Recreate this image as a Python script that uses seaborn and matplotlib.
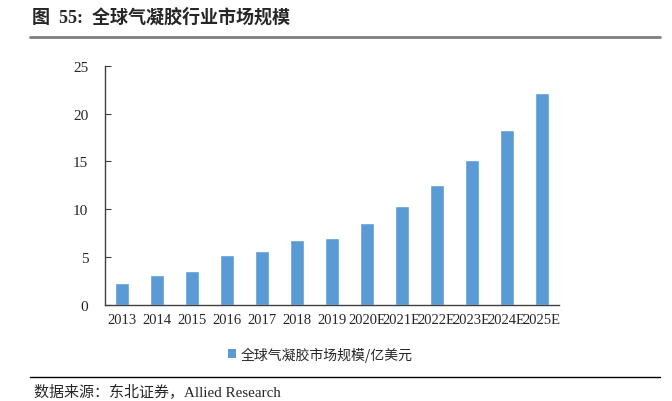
import pandas as pd
import matplotlib
import matplotlib.pyplot as plt
import seaborn as sns
from matplotlib.patches import Patch
from matplotlib.lines import Line2D

sns.set_style("white")
matplotlib.rcParams['font.family'] = ['Liberation Serif', 'Noto Sans CJK SC']

# 数据
years = ["2013", "2014", "2015", "2016", "2017", "2018", "2019",
         "2020E", "2021E", "2022E", "2023E", "2024E", "2025E"]
market_size = [2.24, 3.11, 3.57, 5.18, 5.6, 6.75, 7.03,
               8.53, 10.35, 12.52, 15.14, 18.32, 22.2]
series_name = "全球气凝胶市场规模/亿美元"
title = "图  55:  全球气凝胶行业市场规模"
source = "数据来源：东北证券，Allied Research"

df = pd.DataFrame({"year": years, "value": market_size})

fig = plt.figure(figsize=(6.72, 4.02), dpi=100)
ax = fig.add_axes([105 / 672, 1 - 305.7 / 402, 454 / 672, 238.7 / 402])

sns.barplot(data=df, x="year", y="value", color="#5B9BD5", width=0.4,
            saturation=1, ax=ax)
ax.set_xlim(-0.5, len(years) - 0.5)
ax.set_ylim(0, 25)
ax.set_yticks([0, 5, 10, 15, 20, 25])
ax.set_xlabel("")
ax.set_ylabel("")
for s in ["top", "right"]:
    ax.spines[s].set_visible(False)
for s in ["left", "bottom"]:
    ax.spines[s].set_color("#404040")
    ax.spines[s].set_linewidth(1.0)
ax.tick_params(axis="y", direction="in", length=4, color="#404040",
               labelsize=11, pad=12, left=True)
ax.tick_params(axis="x", length=0, labelsize=10.5, pad=6)

# 图例
handle = Patch(facecolor="#5B9BD5", edgecolor="none")
fig.legend([handle], [series_name], loc="center", bbox_to_anchor=(320 / 672, 1 - 355 / 402),
           frameon=False, handlelength=0.6, handleheight=0.6,
           handletextpad=0.3, prop={"family": ["Noto Sans CJK SC"], "size": 10})

# 标题与分隔线
fig.text(32 / 672, 1 - 17 / 402, title, fontsize=13, fontweight="bold",
         va="center", ha="left", family=["Liberation Serif", "Noto Sans CJK SC"])
fig.add_artist(Line2D([30 / 672, 660 / 672], [1 - 38 / 402] * 2, color="#7f7f7f", lw=2))
fig.add_artist(Line2D([30 / 672, 660 / 672], [1 - 378 / 402] * 2, color="#000000", lw=1))
fig.text(34 / 672, 1 - 392 / 402, source, fontsize=10.8, va="center", ha="left",
         family=["Liberation Serif", "Noto Sans CJK SC"])

fig.savefig("out.png", dpi=100)
